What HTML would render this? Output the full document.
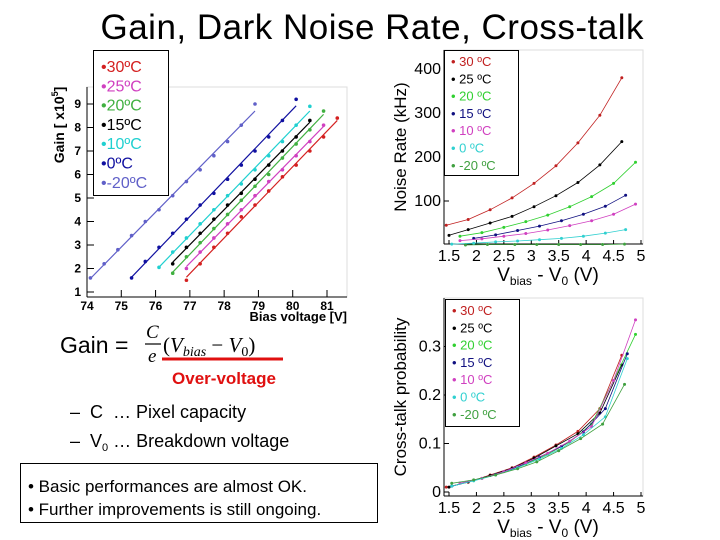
<!DOCTYPE html>
<html><head><meta charset="utf-8"><style>
html,body{margin:0;padding:0;background:#fff}
svg{display:block;font-family:"Liberation Sans",Arial,sans-serif}
</style></head><body>
<svg id="s" width="720" height="540" viewBox="0 0 720 540">
<text x="372" y="39" font-size="35" text-anchor="middle" textLength="543">Gain, Dark Noise Rate, Cross-talk</text>
<g id="gain"></g>
<g id="noise"></g>
<g id="xtalk"></g>
<g>
<text x="60" y="353" font-size="23">Gain =</text>
<text x="146" y="338" font-size="19" font-style="italic" font-family="Liberation Serif,serif">C</text>
<line x1="145" y1="344" x2="161" y2="344" stroke="#000" stroke-width="1.2"/>
<text x="148" y="362" font-size="19" font-style="italic" font-family="Liberation Serif,serif">e</text>
<text x="163" y="352" font-size="21" font-family="Liberation Serif,serif">(<tspan font-style="italic">V</tspan><tspan font-style="italic" font-size="14" dy="4">bias</tspan><tspan dy="-4"> − </tspan><tspan font-style="italic">V</tspan><tspan font-size="14" dy="4">0</tspan><tspan dy="-4">)</tspan></text>
<line x1="162" y1="359" x2="283" y2="359" stroke="#e01010" stroke-width="3"/>
<text x="224" y="384" font-size="17" font-weight="bold" fill="#e01010" text-anchor="middle">Over-voltage</text>
<text x="70" y="418" font-size="18" xml:space="preserve">–  C  … Pixel capacity</text>
<text x="70" y="447" font-size="18" xml:space="preserve">–  V<tspan font-size="11" dy="4">0</tspan><tspan dy="-4"> … Breakdown voltage</tspan></text>
</g>
<g>
<rect x="20.5" y="463.5" width="357" height="59" fill="none" stroke="#000"/>
<text x="28" y="492" font-size="17">• Basic performances are almost OK.</text>
<text x="28" y="515" font-size="17">• Further improvements is still ongoing.</text>
</g>
</svg>
<script>
const NS="http://www.w3.org/2000/svg";
// ---------- Gain data ----------
const gainLabels=["30ºC","25ºC","20ºC","15ºC","10ºC","0ºC","-20ºC"];
const gainColors=["#d42020","#d040c0","#40b040","#000000","#20d0d0","#1010a0","#6060c8"];
const gainX30=[76.9,77.3,77.7,78.1,78.5,78.9,79.3,79.7,80.1,80.5,80.9,81.3];
const gainY30=[1.5,2.2,2.9,3.5,4.2,4.7,5.3,5.9,6.4,7.0,7.6,8.4];
const gainX25=[76.9,77.3,77.7,78.1,78.5,78.9,79.3,79.7,80.1,80.5,80.9];
const gainY25=[2.0,2.7,3.3,3.9,4.5,5.1,5.7,6.2,6.8,7.4,8.1];
const gainX20=[76.5,76.9,77.3,77.7,78.1,78.5,78.9,79.3,79.7,80.1,80.5,80.9];
const gainY20=[1.8,2.5,3.1,3.7,4.3,4.9,5.5,6.0,6.7,7.3,7.9,8.7];
const gainX15=[76.5,76.9,77.3,77.7,78.1,78.5,78.9,79.3,79.7,80.1,80.5];
const gainY15=[2.2,2.9,3.5,4.1,4.7,5.2,5.8,6.4,7.0,7.6,8.3];
const gainX10=[76.1,76.5,76.9,77.3,77.7,78.1,78.5,78.9,79.3,79.7,80.1,80.5];
const gainY10=[2.05,2.7,3.3,3.9,4.5,5.1,5.6,6.2,6.8,7.4,8.1,8.9];
const gainX0=[75.3,75.7,76.1,76.5,76.9,77.3,77.7,78.1,78.5,78.9,79.3,79.7,80.1];
const gainY0=[1.6,2.3,2.9,3.5,4.1,4.7,5.2,5.8,6.4,7.0,7.6,8.3,9.2];
const gainXm20=[74.1,74.5,74.9,75.3,75.7,76.1,76.5,76.9,77.3,77.7,78.1,78.5,78.9];
const gainYm20=[1.6,2.2,2.8,3.4,4.0,4.5,5.1,5.7,6.2,6.8,7.4,8.1,9.0];
const gainXTicks=[74,75,76,77,78,79,80,81];
const gainYTicks=[1,2,3,4,5,6,7,8,9];
// ---------- Noise data ----------
const tLabels=["30 ºC","25 ºC","20 ºC","15 ºC","10 ºC","  0 ºC","-20 ºC"];
const tColors=["#c02020","#000000","#30d030","#101080","#d040c0","#30d0d0","#40a040"];
const noiseX30=[1.45,1.85,2.25,2.65,3.05,3.45,3.85,4.25,4.65];
const noiseY30=[45,58,80,107,140,180,232,295,380];
const noiseX25=[1.5,1.85,2.25,2.65,3.05,3.45,3.85,4.25,4.65];
const noiseY25=[22,35,50,65,87,112,142,182,235];
const noiseX20=[1.7,2.1,2.5,2.9,3.3,3.7,4.1,4.5,4.9];
const noiseY20=[20,28,40,53,68,87,110,140,188];
const noiseX15=[1.95,2.35,2.75,3.15,3.55,3.95,4.35,4.72];
const noiseY15=[15,23,33,43,55,70,88,113];
const noiseX10=[1.7,2.1,2.5,2.9,3.3,3.7,4.1,4.5,4.9];
const noiseY10=[10,14,20,26,34,44,55,70,93];
const noiseX0=[1.55,1.95,2.35,2.75,3.15,3.55,3.95,4.35,4.72];
const noiseY0=[2,4,7,9,12,15,20,27,35];
const noiseXm20=[1.8,2.2,2.7,3.1,3.5,3.9,4.3,4.7];
const noiseYm20=[0,1,1,1,1,1,1,2];
const noiseYTicks=[100,200,300,400];
const ovXTicks=[1.5,2,2.5,3,3.5,4,4.5,5];
// ---------- Cross-talk data ----------
const xtX30=[1.45,1.85,2.25,2.65,3.05,3.45,3.85,4.25,4.65];
const xtY30=[0.01,0.02,0.035,0.05,0.072,0.097,0.125,0.172,0.282];
const xtX25=[1.5,1.85,2.25,2.65,3.05,3.45,3.85,4.25,4.65];
const xtY25=[0.01,0.021,0.034,0.049,0.07,0.095,0.12,0.163,0.262];
const xtX20=[1.7,2.1,2.5,2.9,3.3,3.7,4.1,4.5,4.9];
const xtY20=[0.018,0.028,0.042,0.058,0.078,0.103,0.14,0.23,0.325];
const xtX15=[1.55,1.95,2.35,2.75,3.15,3.55,3.95,4.35,4.75];
const xtY15=[0.012,0.024,0.036,0.052,0.072,0.094,0.124,0.172,0.285];
const xtX10=[1.7,2.1,2.5,2.9,3.3,3.7,4.1,4.5,4.9];
const xtY10=[0.018,0.028,0.042,0.06,0.08,0.105,0.135,0.23,0.355];
const xtX0=[1.55,1.95,2.35,2.75,3.15,3.55,3.95,4.35,4.75];
const xtY0=[0.012,0.023,0.035,0.05,0.068,0.09,0.118,0.155,0.275];
const xtXm20=[1.55,1.95,2.35,2.75,3.1,3.5,3.9,4.3,4.7];
const xtYm20=[0.018,0.025,0.035,0.048,0.062,0.085,0.11,0.14,0.222];
const xtYTicks=[0,0.1,0.2,0.3];

function el(tag,attrs,parent,txt){const e=document.createElementNS(NS,tag);for(const k in attrs)e.setAttribute(k,attrs[k]);if(txt!==undefined)e.textContent=txt;parent.appendChild(e);return e;}

// ===== Gain chart =====
(function(){
 const g=document.getElementById('gain');
 const X=v=>87+(v-74)*240/7, Y=v=>292-(v-1)*23.5;
 el('rect',{x:87,y:87,width:260,height:210,fill:'none',stroke:'#ddd'},g);
 el('line',{x1:87,y1:87,x2:87,y2:297,stroke:'#000'},g);
 el('line',{x1:87,y1:297,x2:347,y2:297,stroke:'#000'},g);
 gainXTicks.forEach(v=>{const t=el('text',{x:X(v),y:310,'font-size':12,'font-weight':'bold','text-anchor':'middle'},g,String(v));
  
  el('line',{x1:X(v),y1:297,x2:X(v),y2:290,stroke:'#000'},g);});
 gainYTicks.forEach(v=>{const t=el('text',{x:81,y:Y(v)+4,'font-size':12,'font-weight':'bold','text-anchor':'end'},g,String(v));
  
  el('line',{x1:87,y1:Y(v),x2:94,y2:Y(v),stroke:'#000'},g);});
 const xt=el('text',{x:347,y:321,'font-size':13,'font-weight':'bold','text-anchor':'end'},g,'Bias voltage [V]');
 
 const yt=el('text',{x:0,y:0,'font-size':14,'font-weight':'bold','text-anchor':'middle',transform:'translate(64,125) rotate(-90)'},g);
 yt.innerHTML='Gain [ x10<tspan font-size="9" dy="-6">5</tspan><tspan dy="6">]</tspan>';
 
 const xs=[gainX30,gainX25,gainX20,gainX15,gainX10,gainX0,gainXm20];
 const ys=[gainY30,gainY25,gainY20,gainY15,gainY10,gainY0,gainYm20];
 xs.forEach((xa,i)=>{
  const ya=ys[i],n=xa.length;let mx=0,my=0;xa.forEach((x,j)=>{mx+=x;my+=ya[j];});mx/=n;my/=n;
  let sxy=0,sxx=0;xa.forEach((x,j)=>{sxy+=(x-mx)*(ya[j]-my);sxx+=(x-mx)*(x-mx);});
  const b=sxy/sxx,a=my-b*mx,x0=xa[0],x1=xa[n-1];
  const ln=el('line',{x1:X(x0),y1:Y(a+b*x0),x2:X(x1),y2:Y(a+b*x1),stroke:gainColors[i],'stroke-width':1.2},g);
  
  xa.forEach((x,j)=>{const c=el('circle',{cx:X(x),cy:Y(ya[j]),r:1.8,fill:gainColors[i]},g);
   });
 });
 el('rect',{x:93.5,y:50.5,width:75,height:145,fill:'#fff',stroke:'#000'},g);
 gainLabels.forEach((l,i)=>{const t=el('text',{x:101,y:72+i*19.3,'font-size':16,fill:gainColors[i]},g,'•'+l);
  });
})();

function ovChart(id,top,bottom,X,Y,yTicks,yFmt,ytitle,ytx,yty,xsArr,ysArr,box,prefix){
 const g=document.getElementById(id);
 el('rect',{x:444,y:top,width:199,height:bottom-top,fill:'none',stroke:'#ddd'},g);
 el('line',{x1:444,y1:top,x2:444,y2:bottom,stroke:'#000'},g);
 el('line',{x1:444,y1:bottom,x2:643,y2:bottom,stroke:'#000'},g);
 ovXTicks.forEach(v=>{const t=el('text',{x:X(v),y:bottom+17,'font-size':16,'text-anchor':'middle'},g,String(v));
  
  el('line',{x1:X(v),y1:bottom,x2:X(v),y2:bottom-4,stroke:'#000'},g);});
 yTicks.forEach(v=>{const t=el('text',{x:441,y:Y(v)+5,'font-size':16,'text-anchor':'end'},g,yFmt(v));
  
  el('line',{x1:444,y1:Y(v),x2:449,y2:Y(v),stroke:'#000'},g);});
 const xt=el('text',{x:548,y:bottom+37,'font-size':19,'text-anchor':'middle'},g);
 xt.innerHTML='V<tspan font-size="12" dy="4">bias</tspan><tspan dy="-4"> - V</tspan><tspan font-size="12" dy="4">0</tspan><tspan dy="-4"> (V)</tspan>';
 
 const yt=el('text',{x:0,y:0,'font-size':17,'text-anchor':'middle',transform:'translate('+ytx+','+yty+') rotate(-90)'},g,ytitle);
 
 xsArr.forEach((xa,i)=>{
  const pts=xa.map((x,j)=>X(x).toFixed(1)+','+Y(ysArr[i][j]).toFixed(1)).join(' ');
  const pl=el('polyline',{points:pts,fill:'none',stroke:tColors[i],'stroke-width':0.8},g);
  
  xa.forEach((x,j)=>{const c=el('circle',{cx:X(x),cy:Y(ysArr[i][j]),r:1.5,fill:tColors[i]},g);
   });
 });
 el('rect',{x:box[0]+.5,y:box[1]+.5,width:box[2],height:box[3],fill:'#fff',stroke:'#000'},g);
 tLabels.forEach((l,i)=>{const t=el('text',{x:box[0]+7,y:box[1]+16+i*17.3,'font-size':13,fill:tColors[i],'xml:space':'preserve'},g,'•  '+l);
  });
}
const OX=v=>449+(v-1.5)*192/3.5;
ovChart('noise',50,244,OX,v=>245-v*0.44,noiseYTicks,v=>String(v),'Noise Rate (kHz)',406,147,
 [noiseX30,noiseX25,noiseX20,noiseX15,noiseX10,noiseX0,noiseXm20],[noiseY30,noiseY25,noiseY20,noiseY15,noiseY10,noiseY0,noiseYm20],[444,50,74,125],'noise');
ovChart('xtalk',298,496,OX,v=>492-v*485,xtYTicks,v=>v===0?'0':v.toFixed(1),'Cross-talk probability',406,397,
 [xtX30,xtX25,xtX20,xtX15,xtX10,xtX0,xtXm20],[xtY30,xtY25,xtY20,xtY15,xtY10,xtY0,xtYm20],[445,299,74,127],'xtalk');
</script>
</body></html>
